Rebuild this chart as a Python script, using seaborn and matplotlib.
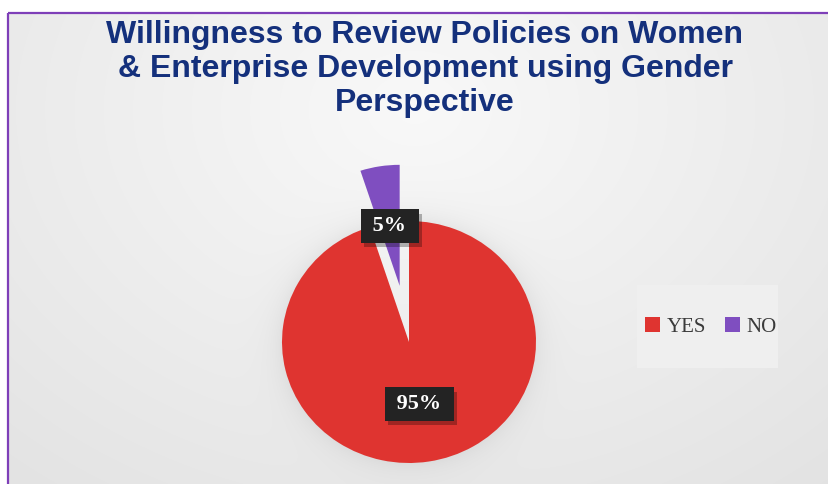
import numpy as np
import matplotlib
matplotlib.use("Agg")
import matplotlib.pyplot as plt
import matplotlib.patheffects as pe
from matplotlib.patches import Rectangle
import seaborn as sns

# Survey answers
labels = ["YES", "NO"]
shares = [95, 5]
slice_colors = ["#DF3430", "#7F4EC0"]
title = ("Willingness to Review Policies on Women\n"
         "& Enterprise Development using Gender\n"
         "Perspective")

sns.set_theme(style="white")
plt.rcParams["font.family"] = ["Liberation Sans", "DejaVu Sans"]
palette = sns.color_palette(slice_colors)

W, H = 829, 484
fig = plt.figure(figsize=(W / 100, H / 100), dpi=100)
fig.patch.set_facecolor("white")

# ---- background panel (pixel coordinates) ----
bg = fig.add_axes([0, 0, 1, 1], zorder=0)
bg.set_xlim(0, W)
bg.set_ylim(H, 0)
bg.axis("off")

yy, xx = np.mgrid[0:H, 0:W] + 0.5
d = np.sqrt(((xx - 415) / 560) ** 2 + ((yy - 110) / 430) ** 2)
shade = 0.975 - 0.075 * np.clip(d, 0, 1.3)
# soft shadow ring around the pie
cx, cy, rx, ry = 409, 342, 127, 121
pd_ = np.sqrt(((xx - cx) / rx) ** 2 + ((yy - cy) / ry) ** 2)
shade -= 0.05 * np.exp(-np.clip(pd_ - 1, 0, None) / 0.10) * (pd_ > 0.9)
img = np.dstack([shade] * 3)
img[:12, :, :] = 1.0
img[:, :8, :] = 1.0
bg.imshow(np.clip(img, 0, 1), extent=(0, W, H, 0), aspect="auto",
          interpolation="bilinear", zorder=0)

border = "#7E3FB8"
bg.plot([8.5, 8.5], [12.5, H], color=border, lw=1.6, solid_capstyle="butt", zorder=2)
bg.plot([8.5, W], [12.5, 12.5], color=border, lw=1.6, solid_capstyle="butt", zorder=2)

# lighter legend panel
bg.add_patch(Rectangle((637, 285), 141, 83, facecolor="#efefef",
                       edgecolor="none", zorder=1))

# ---- title ----
fig.text(425 / W, 1 - 69 / H, title, ha="center", va="center",
         fontsize=23, fontweight="bold", color="#14307C", linespacing=1.16)

# ---- pie ----
k = 1.7
ax = fig.add_axes([(cx - rx * k) / W, (H - cy - ry * k) / H,
                   2 * rx * k / W, 2 * ry * k / H], zorder=3)
wedges, _ = ax.pie(shares, colors=palette, startangle=90, counterclock=False,
                   explode=[0, 0.47], radius=1,
                   wedgeprops=dict(linewidth=0))
ax.set_aspect("auto")
ax.set_xlim(-k, k)
ax.set_ylim(-k, k)
ax.axis("off")

label_r = [0.52, 0.97]
for w, val, r in zip(wedges, shares, label_r):
    mid = np.deg2rad((w.theta1 + w.theta2) / 2)
    t = ax.text(r * np.cos(mid), r * np.sin(mid), f" {val}% ",
                ha="center", va="center", fontsize=16, fontweight="bold",
                color="white", family=["Liberation Serif", "DejaVu Serif"],
                bbox=dict(boxstyle="square,pad=0.3", facecolor="#232323",
                          edgecolor="none"), zorder=5)
    t.get_bbox_patch().set_path_effects(
        [pe.SimplePatchShadow(offset=(2.5, -3), shadow_rgbFace="black", alpha=0.28),
         pe.Normal()])

fig.legend(wedges, labels, loc="center",
           bbox_to_anchor=(711 / W, 1 - 327 / H), ncol=2, frameon=False,
           handlelength=0.7, handleheight=0.7, handletextpad=0.35,
           columnspacing=0.9, borderpad=0,
           prop=dict(family=["Liberation Serif", "DejaVu Serif"], size=15),
           labelcolor="#3a3a3a")

fig.savefig("out.png", dpi=100)
